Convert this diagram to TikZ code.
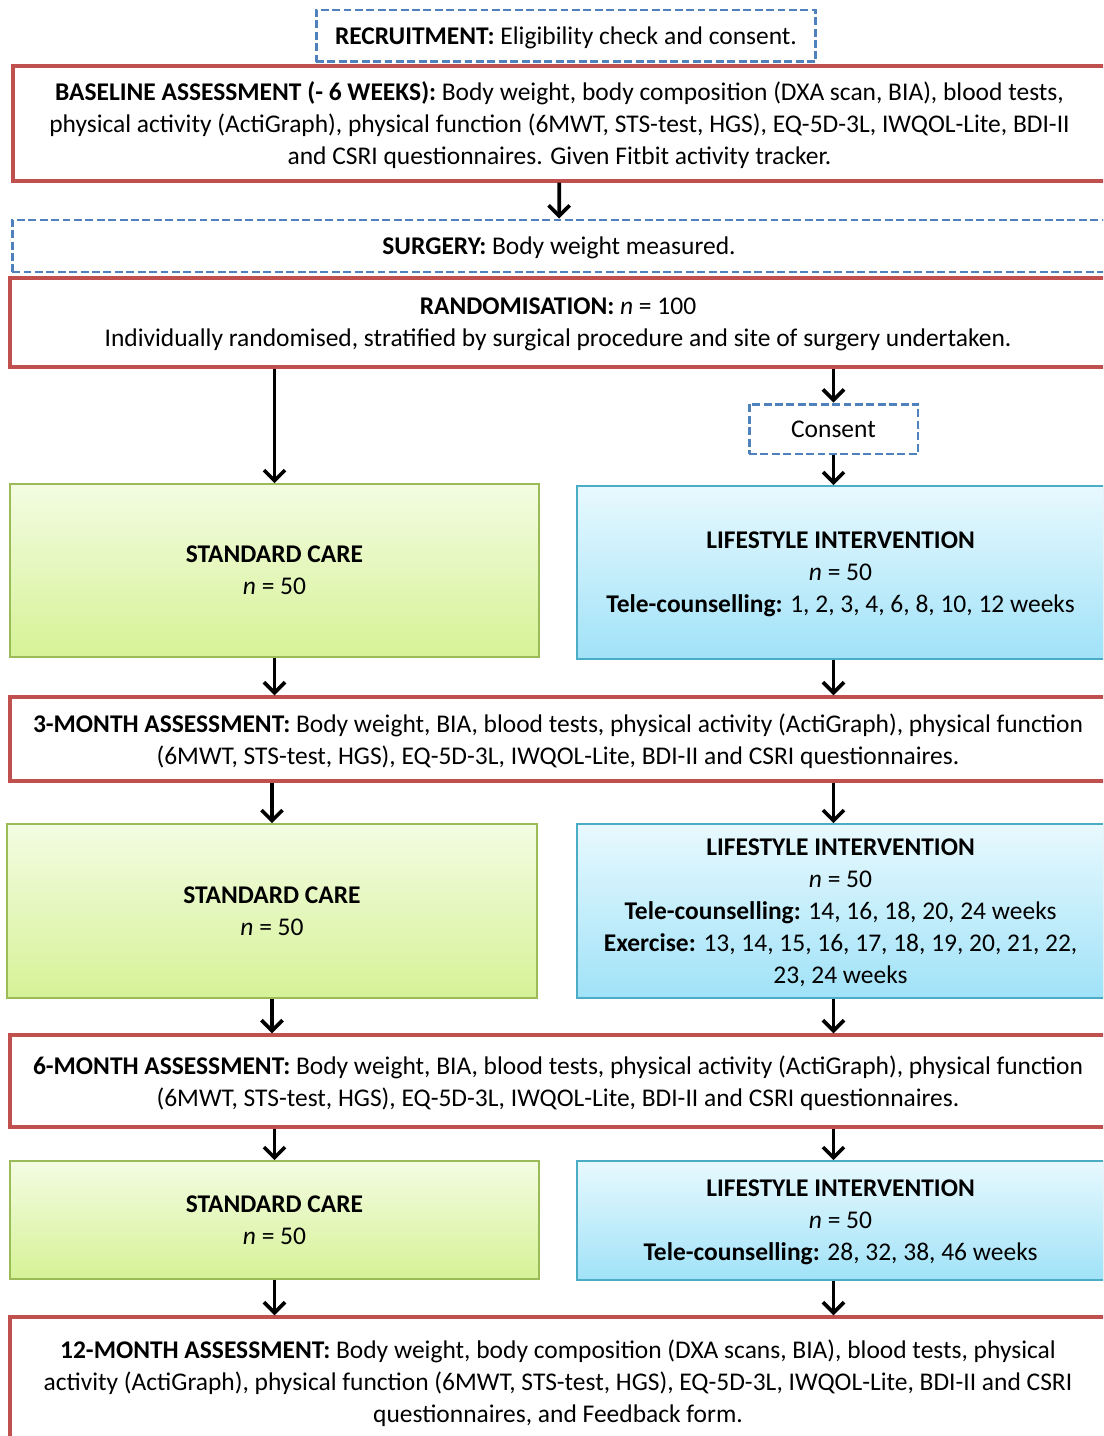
\documentclass[tikz,border=0pt]{standalone}
\usepackage{fontspec}
\setmainfont{Carlito}
\usetikzlibrary{arrows.meta}
\definecolor{redline}{HTML}{C0504D}
\definecolor{blueline}{HTML}{4F81BD}
\definecolor{greenline}{HTML}{9BBB59}
\definecolor{greentop}{HTML}{F3FCE2}
\definecolor{greenbot}{HTML}{D6F296}
\definecolor{cyanline}{HTML}{4BACC6}
\definecolor{cyantop}{HTML}{E8F9FE}
\definecolor{cyanbot}{HTML}{A0E2F8}
\tikzset{
    assess/.style = {rectangle, draw=redline, line width=1.9pt, fill=white, align=center, inner sep=0pt, text depth=0pt},
    stage/.style = {rectangle, draw=blueline, dash pattern=on 4.5pt off 2pt, line width=1.7pt, fill=white, align=center, inner sep=0pt, text depth=0pt},
    sccare/.style = {rectangle, draw=greenline, line width=0.9pt, top color=greentop, bottom color=greenbot, align=center, inner sep=0pt, text depth=0pt},
    lifeint/.style = {rectangle, draw=cyanline, line width=0.9pt, top color=cyantop, bottom color=cyanbot, align=center, inner sep=0pt, text depth=0pt},
    arr/.style = {-{Straight Barb[length=6pt,width=12pt]}, line width=2.1pt, black},
    every picture/.style={font issue=\fontsize{14.5}{18.2}},
    font issue/.style={execute at begin picture={#1\selectfont}}
}

\begin{document}
\begin{tikzpicture}[x=0.02cm,y=-0.02cm]
\clip (0,0) rectangle (1103,1436);
\node[stage, minimum width=10cm, minimum height=1.04cm] at (566,36) (rec) {\textbf{RECRUITMENT:} Eligibility check and consent.};
\node[assess, minimum width=21.86cm, minimum height=2.3cm] at (559.5,123.5) (base) {\textbf{BASELINE ASSESSMENT (- 6 WEEKS):} Body weight, body composition (DXA scan, BIA), blood tests,\\ physical activity (ActiGraph), physical function (6MWT, STS-test, HGS), EQ-5D-3L, IWQOL-Lite, BDI-II\\ and CSRI questionnaires. Given Fitbit activity tracker.};
\node[stage, minimum width=21.88cm, minimum height=1.04cm] at (559,246) (surg) {\textbf{SURGERY:} Body weight measured.};
\node[assess, minimum width=21.92cm, minimum height=1.78cm] at (558,322.5) (rand) {\textbf{RANDOMISATION:} \textit{n} = 100\\ Individually randomised, stratified by surgical procedure and site of surgery undertaken.};
\node[stage, minimum width=3.38cm, minimum height=1cm] at (833.5,429) (consent) {Consent};

\node[sccare, minimum width=10.58cm, minimum height=3.46cm] at (274.5,570.5) (sc1) {\textbf{STANDARD CARE}\\ \textit{n} = 50};
\node[lifeint, minimum width=10.54cm, minimum height=3.46cm] at (840.5,572.5) (li1) {\textbf{LIFESTYLE INTERVENTION}\\ \textit{n} = 50\\ \textbf{Tele-counselling:} 1, 2, 3, 4, 6, 8, 10, 12 weeks};
\node[assess, minimum width=21.92cm, minimum height=1.68cm] at (558,739) (m3) {\textbf{3-MONTH ASSESSMENT:} Body weight, BIA, blood tests, physical activity (ActiGraph), physical function\\ (6MWT, STS-test, HGS), EQ-5D-3L, IWQOL-Lite, BDI-II and CSRI questionnaires.};

\node[sccare, minimum width=10.6cm, minimum height=3.48cm] at (272,911) (sc2) {\textbf{STANDARD CARE}\\ \textit{n} = 50};
\node[lifeint, minimum width=10.54cm, minimum height=3.48cm] at (840.5,911) (li2) {\textbf{LIFESTYLE INTERVENTION}\\ \textit{n} = 50\\ \textbf{Tele-counselling:} 14, 16, 18, 20, 24 weeks\\ \textbf{Exercise:} 13, 14, 15, 16, 17, 18, 19, 20, 21, 22,\\ 23, 24 weeks};
\node[assess, minimum width=21.92cm, minimum height=1.84cm] at (558,1081) (m6) {\textbf{6-MONTH ASSESSMENT:} Body weight, BIA, blood tests, physical activity (ActiGraph), physical function\\ (6MWT, STS-test, HGS), EQ-5D-3L, IWQOL-Lite, BDI-II and CSRI questionnaires.};

\node[sccare, minimum width=10.58cm, minimum height=2.36cm] at (274.5,1220) (sc3) {\textbf{STANDARD CARE}\\ \textit{n} = 50};
\node[lifeint, minimum width=10.54cm, minimum height=2.38cm] at (840.5,1220.5) (li3) {\textbf{LIFESTYLE INTERVENTION}\\ \textit{n} = 50\\ \textbf{Tele-counselling:} 28, 32, 38, 46 weeks};
\node[assess, minimum width=21.92cm, minimum height=2.56cm] at (558,1381) (m12) {\textbf{12-MONTH ASSESSMENT:} Body weight, body composition (DXA scans, BIA), blood tests, physical\\ activity (ActiGraph), physical function (6MWT, STS-test, HGS), EQ-5D-3L, IWQOL-Lite, BDI-II and CSRI\\ questionnaires, and Feedback form.};

\draw[arr] (base) -- (surg);
\draw[arr] (rand.south -| sc1) -- (sc1);
\draw[arr] (rand.south -| consent) -- (consent);
\draw[arr] (consent) -- (li1.north -| consent);
\draw[arr] (sc1) -- (m3.north -| sc1);
\draw[arr] (li1.south -| consent) -- (m3.north -| consent);
\draw[arr] (m3.south -| sc2) -- (sc2);
\draw[arr] (m3.south -| consent) -- (li2.north -| consent);
\draw[arr] (sc2) -- (m6.north -| sc2);
\draw[arr] (li2.south -| consent) -- (m6.north -| consent);
\draw[arr] (m6.south -| sc3) -- (sc3);
\draw[arr] (m6.south -| consent) -- (li3.north -| consent);
\draw[arr] (sc3) -- (m12.north -| sc3);
\draw[arr] (li3.south -| consent) -- (m12.north -| consent);

\end{tikzpicture}
\end{document}
